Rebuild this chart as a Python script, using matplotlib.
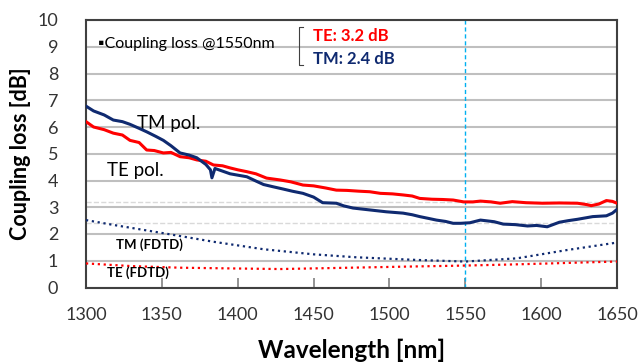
import matplotlib
matplotlib.use('Agg')
import matplotlib.pyplot as plt

plt.rcParams['font.family'] = ['Lato', 'DejaVu Sans']

# measured TE (red)
te_wl = [1300, 1305, 1312, 1318, 1324, 1329, 1335, 1340, 1345, 1351, 1356, 1362, 1368, 1373,
         1379, 1384, 1390, 1395, 1400, 1406, 1412, 1419, 1428, 1435, 1443, 1450, 1458, 1465,
         1472, 1480, 1487, 1494, 1502, 1509, 1515, 1520, 1528, 1535, 1542, 1549, 1555, 1560,
         1567, 1573, 1581, 1590, 1601, 1612, 1624, 1630, 1633, 1638, 1643, 1647, 1650]
te_loss = [6.20, 6.00, 5.90, 5.77, 5.70, 5.50, 5.42, 5.14, 5.12, 5.03, 5.05, 4.89, 4.85, 4.77,
           4.72, 4.58, 4.55, 4.47, 4.40, 4.33, 4.25, 4.09, 4.02, 3.95, 3.83, 3.80, 3.72, 3.64,
           3.63, 3.60, 3.58, 3.52, 3.50, 3.46, 3.42, 3.33, 3.30, 3.29, 3.27, 3.20, 3.20, 3.23,
           3.20, 3.15, 3.21, 3.17, 3.15, 3.16, 3.15, 3.10, 3.06, 3.12, 3.25, 3.22, 3.15]

# measured TM (navy)
tm_wl = [1300, 1305, 1312, 1318, 1324, 1329, 1335, 1340, 1346, 1351, 1356, 1362, 1368, 1373,
         1379, 1382, 1383, 1385, 1390, 1395, 1400, 1406, 1412, 1417, 1423, 1430, 1436, 1443,
         1450, 1456, 1465, 1470, 1476, 1487, 1498, 1509, 1515, 1520, 1526, 1531, 1537, 1542,
         1547, 1553, 1560, 1569, 1575, 1583, 1591, 1597, 1604, 1612, 1618, 1624, 1634, 1643,
         1647, 1650]
tm_loss = [6.78, 6.60, 6.45, 6.26, 6.20, 6.10, 5.95, 5.82, 5.65, 5.50, 5.30, 5.03, 4.95, 4.85,
           4.60, 4.40, 4.10, 4.45, 4.35, 4.25, 4.20, 4.14, 3.98, 3.85, 3.77, 3.68, 3.60, 3.52,
           3.38, 3.17, 3.15, 3.05, 2.97, 2.90, 2.83, 2.78, 2.72, 2.65, 2.58, 2.52, 2.47, 2.40,
           2.40, 2.42, 2.52, 2.46, 2.37, 2.35, 2.30, 2.32, 2.27, 2.44, 2.50, 2.55, 2.65, 2.68,
           2.78, 2.92]

# FDTD simulations
fdtd_wl = [1300, 1318, 1351, 1384, 1417, 1450, 1478, 1518, 1550, 1584, 1617, 1650]
fdtd_tm = [2.52, 2.34, 2.03, 1.71, 1.43, 1.24, 1.13, 1.03, 0.97, 1.09, 1.40, 1.68]
fdtd_te_wl = [1300, 1330, 1362, 1400, 1428, 1474, 1510, 1550, 1580, 1606, 1630, 1650]
fdtd_te = [0.90, 0.80, 0.74, 0.71, 0.69, 0.74, 0.78, 0.82, 0.86, 0.90, 0.94, 0.97]

red = '#ff0000'
navy = '#0f2a70'

fig = plt.figure(figsize=(6.43, 3.63), dpi=100)
ax = fig.add_axes([86 / 643, 1 - 287.5 / 363, (617 - 86) / 643, (287.5 - 20) / 363])

ax.set_xlim(1300, 1650)
ax.set_ylim(0, 10)
ax.set_yticks(range(0, 11))
ax.set_xticks(range(1300, 1651, 50))
ax.grid(axis='y', color='#bfbfbf', linewidth=1.5)
ax.set_axisbelow(True)

ax.axhline(3.2, color='#d9d9d9', linestyle='--', linewidth=1, zorder=1)
ax.axhline(2.4, color='#d9d9d9', linestyle='--', linewidth=1, zorder=1)
ax.axvline(1550, color='#00b0f0', linestyle='--', linewidth=1, dashes=(3, 2), zorder=2)

ax.plot(fdtd_wl, fdtd_tm, color=navy, linestyle=':', linewidth=1.6, zorder=3)
ax.plot(fdtd_te_wl, fdtd_te, color=red, linestyle=':', linewidth=1.6, zorder=3)
ax.plot(te_wl, te_loss, color=red, linewidth=2.2, zorder=4)
ax.plot(tm_wl, tm_loss, color=navy, linewidth=2.2, zorder=5)

for s in ax.spines.values():
    s.set_color('#404040')
    s.set_linewidth(1.5)

ax.tick_params(axis='x', direction='in', length=7, width=1.2, color='#808080',
               labelsize=13, pad=14, labelcolor='#333333')
ax.tick_params(axis='y', length=0, labelsize=13, pad=20, labelcolor='#333333')

ax.set_xlabel('Wavelength [nm]', fontsize=17.5, fontweight='bold', labelpad=11)
ax.set_ylabel('Coupling loss [dB]', fontsize=15.5, fontweight='bold', labelpad=5)

ax.text(1308, 9.1, '▪Coupling loss @1550nm', fontsize=11.5, va='center', color='black')
ax.plot([1443, 1440.4, 1440.4, 1443], [9.74, 9.74, 8.32, 8.32], color='#404040', linewidth=0.8)
ax.text(1449.6, 9.4, 'TE: 3.2 dB', fontsize=12, fontweight='bold', color=red, va='center')
ax.text(1449.6, 8.54, 'TM: 2.4 dB', fontsize=12, fontweight='bold', color=navy, va='center')

ax.text(1333.6, 6.14, 'TM pol.', fontsize=13.5, va='center', color='black')
ax.text(1313.8, 4.39, 'TE pol.', fontsize=13.5, va='center', color='black')
ax.text(1320, 1.59, 'TM (FDTD)', fontsize=9.5, fontweight='bold', va='center', color='black')
ax.text(1313.8, 0.54, 'TE (FDTD)', fontsize=9.5, fontweight='bold', va='center', color='black')

fig.savefig('out.png', dpi=100)
